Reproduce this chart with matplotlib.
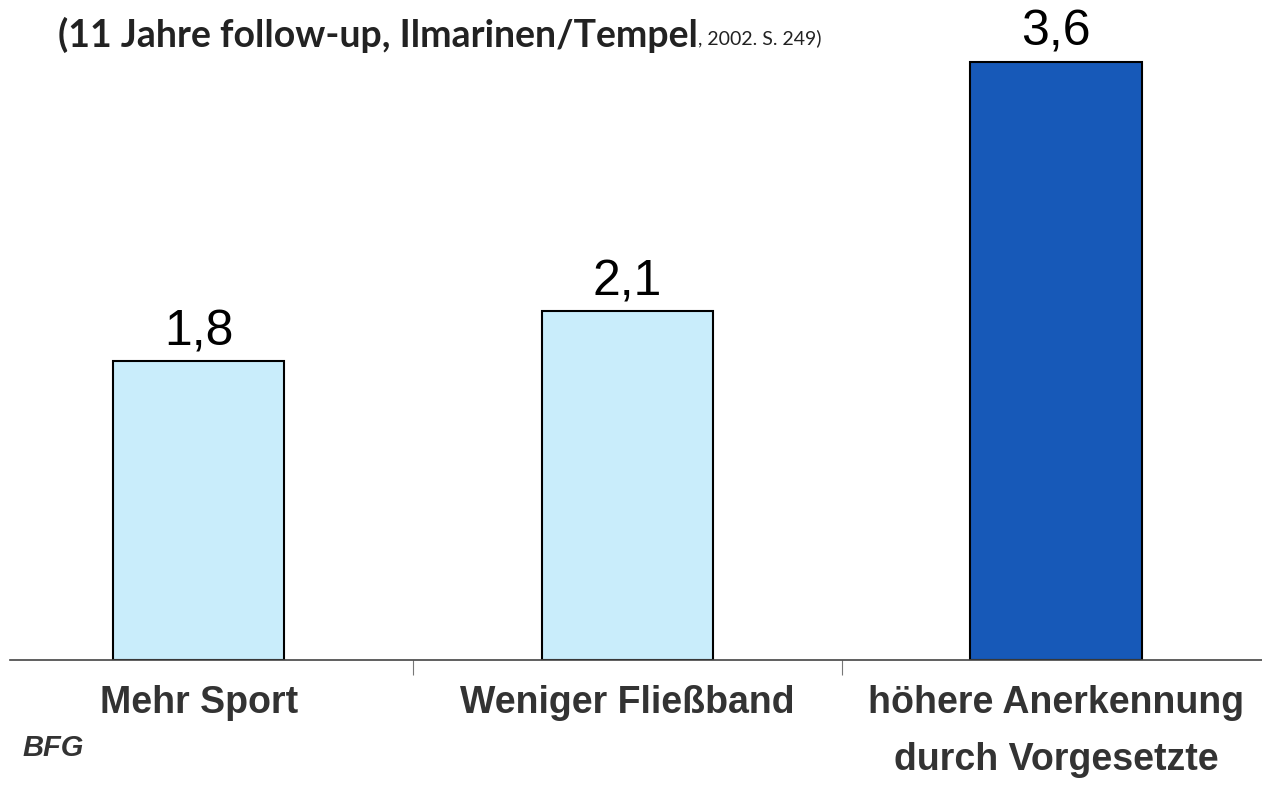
import matplotlib.pyplot as plt

# data
categories = ["Mehr Sport", "Weniger Fließband", "höhere Anerkennung\ndurch Vorgesetzte"]
values = [1.8, 2.1, 3.6]
value_labels = ["1,8", "2,1", "3,6"]
bar_colors = ["#c9edfb", "#c9edfb", "#1759b8"]

fig = plt.figure(figsize=(12.62, 7.88), dpi=100)
ax = fig.add_axes([0.008, 0.1624, 0.992, 0.8376])

x = list(range(len(categories)))
bars = ax.bar(x, values, width=0.4, color=bar_colors, edgecolor="black", linewidth=1.5)

for xi, v, lab in zip(x, values, value_labels):
    ax.annotate(lab, (xi, v), xytext=(0, 4), textcoords="offset points",
                ha="center", va="bottom", fontsize=36, family="Liberation Sans")

ax.set_xlim(-0.44, 2.48)
ax.set_ylim(0, 3.97)

for s in ["top", "right", "left"]:
    ax.spines[s].set_visible(False)
ax.spines["bottom"].set_color("#444444")
ax.spines["bottom"].set_linewidth(1.2)
ax.set_yticks([])

ax.set_xticks(x)
ax.set_xticklabels(categories, fontsize=27, fontweight="bold", family="Liberation Sans",
                   color="#333333", linespacing=1.75)
ax.tick_params(axis="x", which="major", length=0, pad=18)
ax.set_xticks([0.5, 1.5], minor=True)
ax.tick_params(axis="x", which="minor", length=11, width=0.8, color="#777777")

# subtitle in two parts (bold + small reference)
t1 = fig.text(58 / 1262, 1 - 35 / 788, "(11 Jahre follow-up, Ilmarinen/Tempel",
              fontsize=27, fontweight="bold", family="Lato", color="#222222", va="center")
fig.canvas.draw()
bb = t1.get_window_extent()
fig.text(bb.x1 / fig.bbox.width, 1 - 38 / 788, ", 2002. S. 249)",
         fontsize=14, family="Lato", color="#222222", va="center")

fig.text(22 / 1262, 1 - 748 / 788, "BFG", fontsize=21, fontweight="bold", style="italic",
         family="Liberation Sans", color="#333333", va="center")

fig.savefig("out.png", dpi=100)
